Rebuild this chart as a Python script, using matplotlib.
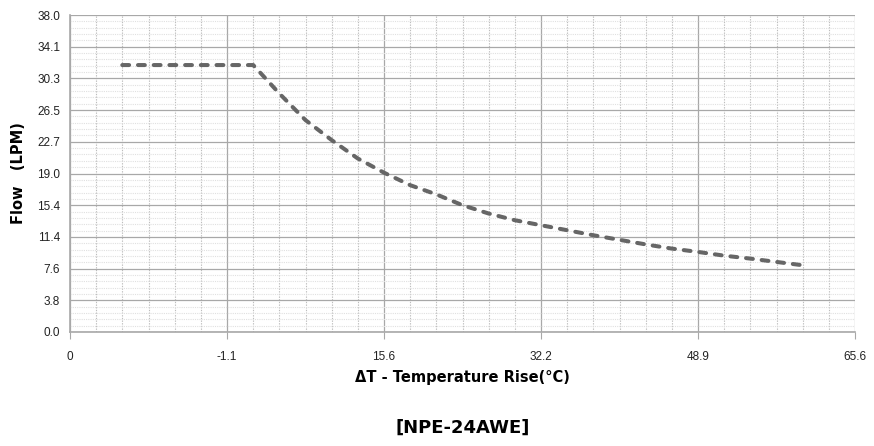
import numpy as np
import matplotlib
matplotlib.use('Agg')
import matplotlib.pyplot as plt
from matplotlib.ticker import FixedLocator

# axis positions (major grid units) and the odd labels printed on them
x_ticks = [0, 1, 2, 3, 4, 5]
x_labels = ['0', '-1.1', '15.6', '32.2', '48.9', '65.6']
y_ticks = np.linspace(0, 38, 11)
y_labels = ['0.0', '3.8', '7.6', '11.4', '15.4', '19.0', '22.7', '26.5', '30.3', '34.1', '38.0']

# flow curve (x in grid units, flow in LPM)
x_pos = [0.333, 0.5, 0.667, 0.833, 1.0, 1.167, 1.333, 1.5, 1.667, 1.833, 2.0,
         2.167, 2.333, 2.5, 2.667, 2.833, 3.0, 3.167, 3.333, 3.5, 3.667,
         3.833, 4.0, 4.167, 4.333, 4.5, 4.667]
flow = [32.0, 32.0, 32.0, 32.0, 32.0, 32.0, 28.6, 25.4, 23.0, 20.8, 19.1,
        17.6, 16.5, 15.2, 14.2, 13.4, 12.8, 12.2, 11.6, 11.05, 10.5,
        10.0, 9.6, 9.15, 8.8, 8.4, 8.0]

plt.rcParams['font.family'] = ['Liberation Sans', 'DejaVu Sans']

fig = plt.figure(figsize=(8.74, 4.46), dpi=100)
ax = fig.add_axes([70/874, 1 - 332/446, 785/874, 317/446])

ax.set_xlim(0, 5)
ax.set_ylim(0, 38)
# minor grid: 6 per major in x, 5 per major in y (skip the major positions)
ax.xaxis.set_minor_locator(FixedLocator([i / 6 for i in range(31) if i % 6]))
ax.yaxis.set_minor_locator(FixedLocator([i * 38 / 50 for i in range(51) if i % 5]))

ax.grid(which='minor', axis='x', color='#bdbdbd', lw=0.8, ls=(0, (1.2, 1.2)))
ax.grid(which='minor', axis='y', color='#e0e0e0', lw=0.8, ls=(0, (1, 1)))
ax.grid(which='major', color='#a8a8a8', lw=0.9, ls='-')
ax.set_axisbelow(True)

ax.plot(x_pos, flow, color='#666666', lw=2.9, ls=(0, (1.7, 2.2)),
        dash_capstyle='round', solid_capstyle='round')

ax.set_xticks(x_ticks)
ax.set_xticklabels(x_labels)
ax.set_yticks(y_ticks)
ax.set_yticklabels(y_labels)
ax.tick_params(axis='x', which='major', length=5, color='#a8a8a8', pad=9, labelsize=8.5,
               labelcolor='#222222')
ax.tick_params(axis='y', which='major', length=0, pad=7, labelsize=8.5,
               labelcolor='#222222')
ax.tick_params(which='minor', length=0)

for s in ['top', 'right']:
    ax.spines[s].set_visible(False)
for s in ['left', 'bottom']:
    ax.spines[s].set_color('#a8a8a8')
    ax.spines[s].set_linewidth(1.2)

ax.set_xlabel('ΔT - Temperature Rise(°C)', fontsize=10.5, fontweight='bold',
              family=['DejaVu Sans'], labelpad=5)
ax.set_ylabel('Flow   (LPM)', fontsize=10.5, fontweight='bold',
              family=['DejaVu Sans'])
ax.yaxis.set_label_coords(-44/785, 0.5)
fig.text(463/874, 1 - 428/446, '[NPE-24AWE]', ha='center', va='center',
         fontsize=13, fontweight='bold', family=['DejaVu Sans'])

fig.savefig('out.png', dpi=100)
